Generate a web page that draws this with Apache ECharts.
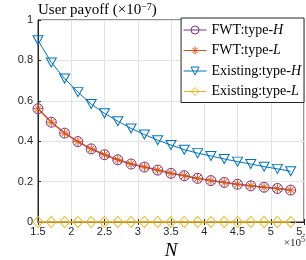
<!DOCTYPE html>
<html>
<head>
<meta charset="utf-8">
<script src="https://cdn.jsdelivr.net/npm/echarts@6/dist/echarts.min.js"></script>
<style>
  html, body { margin: 0; padding: 0; background: #fff; }
  #chart { width: 306px; height: 260px; }
</style>
</head>
<body>
<div id="chart"></div>
<script>
// N values (x 10^5)
const nValues = [1.5, 1.7, 1.9, 2.1, 2.3, 2.5, 2.7, 2.9, 3.1, 3.3, 3.5, 3.7, 3.9, 4.1, 4.3, 4.5, 4.7, 4.9, 5.1, 5.3];

// User payoff (x 10^-7)
const fwtTypeH = [0.561, 0.494, 0.440, 0.398, 0.362, 0.333, 0.308, 0.287, 0.272, 0.257, 0.241, 0.229, 0.216, 0.205, 0.196, 0.187, 0.179, 0.172, 0.166, 0.158];
const fwtTypeL = [0.561, 0.494, 0.440, 0.398, 0.362, 0.333, 0.308, 0.287, 0.272, 0.257, 0.241, 0.229, 0.216, 0.205, 0.196, 0.187, 0.179, 0.172, 0.166, 0.158];
const existingTypeH = [0.900, 0.790, 0.710, 0.643, 0.584, 0.538, 0.499, 0.463, 0.433, 0.405, 0.381, 0.358, 0.341, 0.327, 0.312, 0.299, 0.287, 0.274, 0.263, 0.251];
const existingTypeL = [0, 0, 0, 0, 0, 0, 0, 0, 0, 0, 0, 0, 0, 0, 0, 0, 0, 0, 0, 0];

const xTicks = ['1.5', '2', '2.5', '3', '3.5', '4', '4.5', '5', '5.5'];
const yTicks = ['0', '0.2', '0.4', '0.6', '0.8', '1'];

const serif = '"Liberation Serif", "DejaVu Serif", serif';
const sans = '"Liberation Sans", Arial, sans-serif';
const asterisk = 'path://M5,0L5,10M0,5L10,5M1.5,1.5L8.5,8.5M8.5,1.5L1.5,8.5';

const pairs = (ys) => nValues.map((n, i) => [n, ys[i]]);

function makeSeries(name, ys, color, symbol, opts) {
  return Object.assign({
    name,
    type: 'line',
    data: pairs(ys),
    symbol,
    symbolSize: 9,
    clip: false,
    lineStyle: { color, width: 1 },
    itemStyle: { color: 'transparent', borderColor: color, borderWidth: 1 },
    emphasis: { disabled: true },
    z: 3
  }, opts || {});
}

const chart = echarts.init(document.getElementById('chart'), null, { renderer: 'canvas' });

chart.setOption({
  animation: false,
  backgroundColor: '#fff',
  title: {
    text: 'User payoff ({s|×10}{sup|−7}{s|)}',
    left: 34,
    top: 0,
    padding: [2, 4, 2, 4],
    textStyle: {
      fontFamily: serif, fontSize: 15, fontWeight: 'normal', color: '#000',
      rich: {
        s: { fontFamily: serif, fontSize: 15, color: '#000' },
        sup: { fontFamily: serif, fontSize: 10, color: '#000', verticalAlign: 'top', padding: [0, 0, 6, 0] }
      }
    }
  },
  grid: {
    left: 38, right: 2, top: 20, bottom: 38,
    outerBoundsMode: 'none',
    show: true, borderColor: '#262626', borderWidth: 1
  },
  legend: {
    orient: 'vertical',
    right: 2,
    top: 18,
    padding: [5, 3, 4, 2],
    itemWidth: 23,
    itemHeight: 10,
    itemGap: 6.5,
    backgroundColor: '#fff',
    borderColor: '#262626',
    borderWidth: 1,
    borderRadius: 0,
    lineStyle: { width: 1 },
    itemStyle: { borderWidth: 1 },
    data: ['FWT:type-H', 'FWT:type-L', 'Existing:type-H', 'Existing:type-L'],
    formatter: (name) => name.replace(/-(H|L)$/, '-{i|$1}'),
    textStyle: {
      fontFamily: serif, fontSize: 14, color: '#000', lineHeight: 14,
      rich: { i: { fontFamily: serif, fontSize: 14, fontStyle: 'italic', color: '#000' } }
    }
  },
  xAxis: [{
    type: 'value',
    min: 1.5,
    max: 5.5,
    interval: 0.5,
    name: 'N',
    nameLocation: 'middle',
    nameGap: 17,
    nameTextStyle: { fontFamily: serif, fontSize: 19, fontStyle: 'italic', color: '#000' },
    axisLine: { show: true, onZero: false, lineStyle: { color: '#262626', width: 1 } },
    axisTick: { show: true, inside: true, length: 3, lineStyle: { color: '#262626' } },
    axisLabel: {
      color: '#262626', fontFamily: sans, fontSize: 11, margin: 4,
      formatter: (v) => xTicks[Math.round((v - 1.5) / 0.5)] || ''
    },
    splitLine: { show: true, lineStyle: { color: '#e3e3e3', width: 1 } }
  }, {
    type: 'value',
    position: 'top',
    min: 1.5,
    max: 5.5,
    interval: 0.5,
    axisLine: { show: true, lineStyle: { color: '#262626' } },
    axisTick: { show: true, inside: true, length: 3, lineStyle: { color: '#262626' } },
    axisLabel: { show: false },
    splitLine: { show: false }
  }],
  yAxis: {
    type: 'value',
    min: 0,
    max: 1,
    interval: 0.2,
    axisLine: { show: true, lineStyle: { color: '#262626', width: 1 } },
    axisTick: { show: true, inside: true, length: 3, lineStyle: { color: '#262626' } },
    axisLabel: {
      color: '#262626', fontFamily: sans, fontSize: 11, margin: 5,
      formatter: (v) => yTicks[Math.round(v / 0.2)] || ''
    },
    splitLine: { show: true, lineStyle: { color: '#e3e3e3', width: 1 } }
  },
  graphic: [{
    type: 'text',
    right: 1,
    top: 236,
    style: {
      text: '{a|×10}{b|5}',
      rich: {
        a: { fontFamily: serif, fontSize: 11, fill: '#262626' },
        b: { fontFamily: serif, fontSize: 8, fill: '#262626', verticalAlign: 'top', padding: [0, 0, 6, 0] }
      }
    }
  }],
  series: [
    makeSeries('FWT:type-H', fwtTypeH, '#7E2F8E', 'circle', { symbolSize: 10 }),
    makeSeries('FWT:type-L', fwtTypeL, '#D95319', asterisk, { symbolSize: 10, lineStyle: { color: '#D95319', width: 1.5 } }),
    makeSeries('Existing:type-H', existingTypeH, '#0072BD', 'triangle', { symbolRotate: 180, symbolSize: [10, 9] }),
    makeSeries('Existing:type-L', existingTypeL, '#EDB120', 'diamond', { symbolSize: [10, 11], lineStyle: { color: '#EDB120', width: 1.5 } })
  ]
});
</script>
</body>
</html>
